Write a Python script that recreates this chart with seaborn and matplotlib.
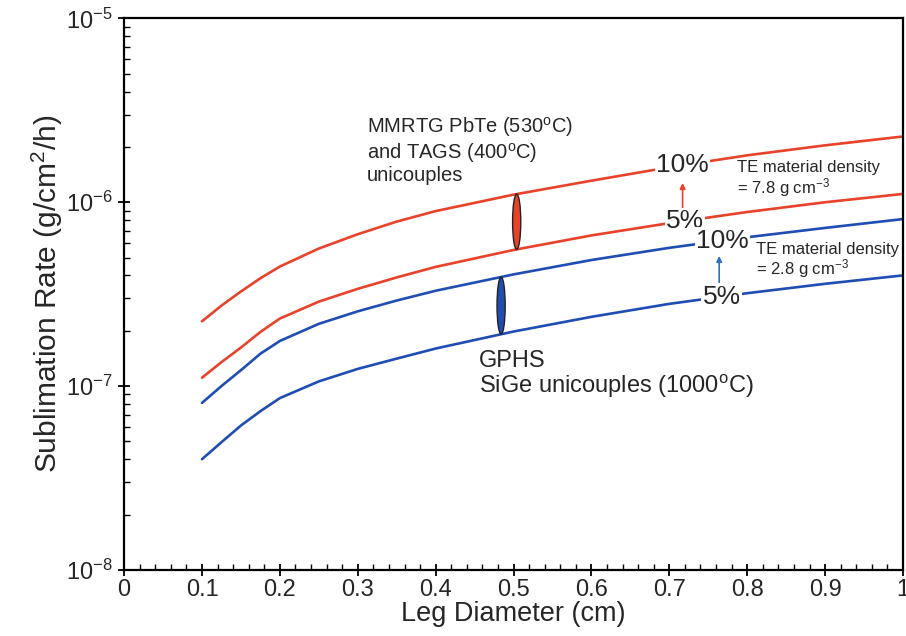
import numpy as np
import pandas as pd
import matplotlib
matplotlib.use("Agg")
import matplotlib.pyplot as plt
import seaborn as sns
from matplotlib.patches import Ellipse
from matplotlib.ticker import MultipleLocator, LogLocator

# ---- data ----
leg_diameter = [0.1, 0.125, 0.15, 0.175, 0.2, 0.25, 0.3, 0.35, 0.4, 0.5, 0.6, 0.7, 0.8, 0.9, 1.0]
pbte_10 = [2.25e-7, 2.74e-7, 3.27e-7, 3.86e-7, 4.47e-7, 5.6e-7, 6.7e-7, 7.85e-7, 8.95e-7,
           1.10e-6, 1.31e-6, 1.55e-6, 1.80e-6, 2.04e-6, 2.28e-6]
pbte_5 = [1.11e-7, 1.35e-7, 1.62e-7, 1.97e-7, 2.33e-7, 2.88e-7, 3.38e-7, 3.9e-7, 4.45e-7,
          5.5e-7, 6.6e-7, 7.7e-7, 8.85e-7, 1.0e-6, 1.11e-6]
sige_10 = [8.1e-8, 1.0e-7, 1.22e-7, 1.5e-7, 1.76e-7, 2.18e-7, 2.55e-7, 2.92e-7, 3.3e-7,
           4.05e-7, 4.85e-7, 5.65e-7, 6.45e-7, 7.25e-7, 8.1e-7]
sige_5 = [4.0e-8, 4.95e-8, 6.1e-8, 7.3e-8, 8.6e-8, 1.06e-7, 1.24e-7, 1.41e-7, 1.6e-7,
          1.98e-7, 2.38e-7, 2.8e-7, 3.2e-7, 3.6e-7, 4.0e-7]
series_names = ["PbTe 10%", "PbTe 5%", "SiGe 10%", "SiGe 5%"]
x_ticks = [0, 0.1, 0.2, 0.3, 0.4, 0.5, 0.6, 0.7, 0.8, 0.9, 1]
x_tick_labels = ["0", "0.1", "0.2", "0.3", "0.4", "0.5", "0.6", "0.7", "0.8", "0.9", "1"]

RED = "#e8432a"
BLUE = "#1f4db3"

df = pd.concat([
    pd.DataFrame({"d": leg_diameter, "rate": v, "series": n})
    for n, v in zip(series_names, [pbte_10, pbte_5, sige_10, sige_5])
])

sns.set_style("ticks")
plt.rcParams["font.family"] = ["Liberation Sans", "DejaVu Sans"]
plt.rcParams["mathtext.fontset"] = "custom"
plt.rcParams["mathtext.rm"] = "Liberation Sans"
plt.rcParams["mathtext.it"] = "Liberation Sans:italic"

fig = plt.figure(figsize=(9.06, 6.36), dpi=100)
ax = fig.add_axes([0.137, 0.104, 0.8597, 0.867])

sns.lineplot(data=df, x="d", y="rate", hue="series",
             palette={"PbTe 10%": RED, "PbTe 5%": RED, "SiGe 10%": BLUE, "SiGe 5%": BLUE},
             linewidth=1.9, legend=False, ax=ax, zorder=2)

ax.set_yscale("log")
ax.set_xlim(0, 1)
ax.set_ylim(1e-8, 1e-5)
ax.set_xticks(x_ticks)
ax.set_xticklabels(x_tick_labels)
ax.xaxis.set_minor_locator(MultipleLocator(0.02))
ax.yaxis.set_major_locator(LogLocator(base=10, numticks=10))
ax.yaxis.set_minor_locator(LogLocator(base=10, subs=np.arange(2, 10), numticks=20))
ax.tick_params(which="major", direction="inout", length=9, width=1.3, labelsize=17,
               top=False, right=False, color="black")
ax.tick_params(which="minor", direction="in", length=4, width=1.0,
               top=False, right=False, color="black")
ax.tick_params(axis="x", which="major", pad=2)
for s in ax.spines.values():
    s.set_linewidth(1.6)
    s.set_color("black")

ax.set_xlabel("Leg Diameter (cm)", fontsize=19.5, labelpad=0)
ax.set_ylabel("Sublimation Rate (g/cm$^2$/h)", fontsize=21.5, labelpad=1)

# percent labels sitting on the lines
lbl_kw = dict(ha="center", va="center", fontsize=19, zorder=4,
              bbox=dict(facecolor="white", edgecolor="none", pad=1.0))
def yat(series, x):
    return 10 ** np.interp(x, leg_diameter, np.log10(series))

ax.text(0.717, yat(pbte_10, 0.717), "10%", **lbl_kw)
ax.text(0.720, yat(pbte_5, 0.720), "5%", **lbl_kw)
ax.text(0.768, yat(sige_10, 0.768), "10%", **lbl_kw)
ax.text(0.767, yat(sige_5, 0.767), "5%", **lbl_kw)

# arrows from 5% to 10%
arr = dict(arrowstyle="-|>", lw=1.2, mutation_scale=8, shrinkA=0, shrinkB=0)
ax.annotate("", xy=(0.717, yat(pbte_10, 0.717) * 0.80), xytext=(0.717, yat(pbte_5, 0.717) * 1.16),
            arrowprops=dict(color=RED, **arr))
ax.annotate("", xy=(0.764, yat(sige_10, 0.764) * 0.83), xytext=(0.764, yat(sige_5, 0.764) * 1.19),
            arrowprops=dict(color="#2f6fc8", **arr))

# ellipses spanning the 5%-10% band
def add_band_ellipse(x, lo, hi, color):
    p_lo = ax.transAxes.inverted().transform(ax.transData.transform((x, yat(lo, x))))
    p_hi = ax.transAxes.inverted().transform(ax.transData.transform((x, yat(hi, x))))
    e = Ellipse(((p_lo[0] + p_hi[0]) / 2, (p_lo[1] + p_hi[1]) / 2), 0.0105, p_hi[1] - p_lo[1],
                transform=ax.transAxes, facecolor=color, edgecolor="#222222", lw=1.0, zorder=3)
    ax.add_patch(e)

add_band_ellipse(0.504, pbte_5, pbte_10, RED)
add_band_ellipse(0.484, sige_5, sige_10, BLUE)

ax.text(0.312, 3.0e-6, "MMRTG PbTe (530$^{\\rm o}$C)\nand TAGS (400$^{\\rm o}$C)\nunicouples",
        fontsize=14.5, va="top", ha="left", linespacing=1.12)
ax.text(0.455, 1.57e-7, "GPHS\nSiGe unicouples (1000$^{\\rm o}$C)",
        fontsize=17, va="top", ha="left", linespacing=1.02)
ax.text(0.787, 1.70e-6, "TE material density\n= 7.8 g cm$^{-3}$",
        fontsize=12, va="top", ha="left", linespacing=1.05)
ax.text(0.811, 6.1e-7, "TE material density\n= 2.8 g cm$^{-3}$",
        fontsize=12, va="top", ha="left", linespacing=1.05)

fig.savefig("out.png", dpi=100, facecolor="white")
